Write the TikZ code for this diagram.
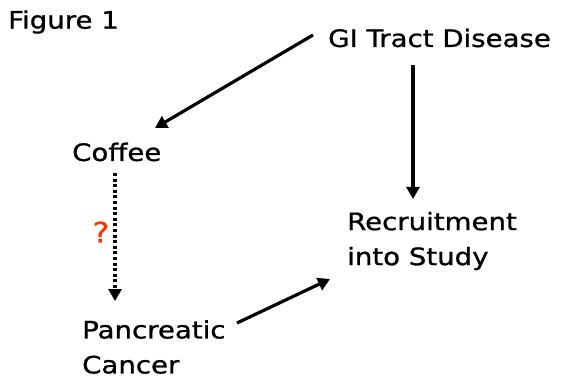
\documentclass[tikz,border=0pt]{standalone}
\usepackage{fontspec}
\setmainfont{DejaVu Sans}[FakeStretch=1.15,FakeBold=1]
\usetikzlibrary{arrows.meta}
\definecolor{qred}{RGB}{255,51,0}
\begin{document}
\begin{tikzpicture}[x=1pt,y=-1pt,
  lbl/.style={font=\fontsize{24}{35}\selectfont, align=left, inner sep=0pt, anchor=west},
  arr/.style={line width=3.2pt, -{Triangle[length=12pt,width=13pt]}},
  dotarr/.style={line width=3.2pt, dash pattern=on 3pt off 2.6pt, -{Triangle[length=12pt,width=13pt]}}]
\useasboundingbox (0,0) rectangle (569,379);
\fill[white] (0,0) rectangle (569,379);
\node[lbl, font=\fontsize{24}{25}\selectfont] (fig) at (8,22) {Figure 1};
\node[lbl] (gi) at (328,38) {GI Tract Disease};
\node[lbl] (cof) at (72,152) {Coffee};
\node[lbl] (rec) at (347,241) {Recruitment\\into Study};
\node[lbl] (pan) at (82,347) {Pancreatic\\Cancer};
\node[text=qred, font=\fontsize{28}{30}\selectfont, inner sep=0pt] (q) at (101,232) {?};
\coordinate (giS) at (313,35);
\coordinate (cofE) at (155,128);
\coordinate (giD) at (413,65);
\coordinate (recT) at (413,199);
\coordinate (cofD) at (115,173);
\coordinate (panT) at (115,301);
\coordinate (panR) at (237,323);
\coordinate (recL) at (330,279);
\draw[arr] (giS) -- (cofE);
\draw[arr] (giD) -- (recT);
\draw[dotarr] (cofD) -- (panT);
\draw[arr] (panR) -- (recL);
\end{tikzpicture}
\end{document}
